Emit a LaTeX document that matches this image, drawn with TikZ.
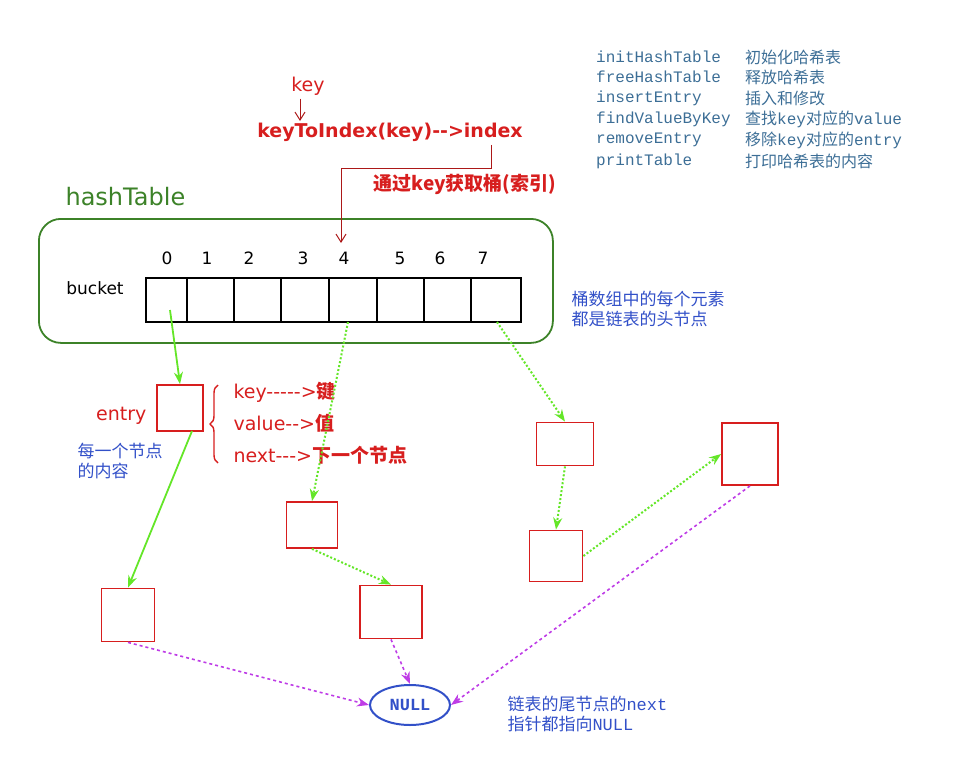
\documentclass[tikz,border=0pt]{standalone}
\usepackage{fontspec}
\setmainfont{DejaVu Sans}
\newfontfamily\cjk{Noto Sans CJK SC}
\newfontfamily\mono{Liberation Mono}
\usetikzlibrary{arrows.meta,shapes.geometric,decorations.pathreplacing}
\definecolor{myred}{RGB}{215,30,30}
\definecolor{mygreen}{RGB}{60,130,40}
\definecolor{myblue}{RGB}{50,80,200}
\definecolor{listblue}{RGB}{60,110,150}
\definecolor{lgreen}{RGB}{100,230,40}
\definecolor{purp}{RGB}{190,60,230}
\begin{document}
\begin{tikzpicture}[x=1pt,y=-1pt,
  ent/.style={draw=myred,line width=1.8pt,minimum width=#1,minimum height=#1,inner sep=0pt},
  ent/.default=50pt,
  cell/.style={draw=black,line width=1.5pt,minimum height=44pt,inner sep=0pt},
  rtxt/.style={text=myred,font=\fontsize{19}{21}\selectfont},
  btxt/.style={text=myblue,font=\fontsize{17}{20}\selectfont,anchor=west},
  ltxt/.style={text=listblue,font=\fontsize{16}{18}\selectfont,anchor=west,inner sep=0pt},
  gsolid/.style={draw=lgreen,line width=1.8pt,-{Stealth[length=12pt,width=9pt]}},
  gdot/.style={draw=lgreen,line width=2pt,dotted,-{Stealth[length=12pt,width=9pt]}},
  pdash/.style={draw=purp,line width=1.6pt,dashed,-{Stealth[length=12pt,width=9pt]}},
  rarr/.style={draw=myred!80!black,line width=1pt,-{Straight Barb[length=8pt,width=10pt]}}]
\useasboundingbox (0,0) rectangle (957,765);
% title area
\node[rtxt] (key) at (308,86) {key};
\node[rtxt,font=\fontsize{19}{21}\selectfont\bfseries] (kti) at (390,132) {keyToIndex(key)-{}->index};
\coordinate (kt) at (300,121);
\draw[rarr] (key.south -| kt) -- (kt);
\node[rtxt,font=\fontsize{19}{21}\selectfont\bfseries\cjk] (via) at (465,184) {通过key获取桶(索引)};
% hash table
\node[text=mygreen,font=\fontsize{24}{26}\selectfont,anchor=west] (ht) at (62,197) {hashTable};
\node[draw=mygreen,line width=1.8pt,rounded corners=22pt,minimum width=514pt,minimum height=124pt,anchor=north west] (box) at (38,218) {};
\node[font=\fontsize{17}{20}\selectfont] (bl) at (95,288) {bucket};
\foreach \i/\a/\b in {0/145/186,1/186/233,2/233/280,3/280/328,4/328/376,5/376/423,6/423/470,7/470/520}{
  \node[cell,minimum width={\b-\a},anchor=west] (c\i) at (\a,300) {};}
\foreach \i/\x in {0/167,1/207,2/249,3/303,4/344,5/400,6/440,7/483}{
  \node[font=\fontsize{17}{20}\selectfont] (n\i) at (\x,258) {\i};}
\coordinate (k4) at (341,243);
\draw[rarr] (kti.south -| 491,0) -- (491,168) -- (341,168) -- (k4);
\node[btxt,font=\fontsize{17}{20}\selectfont\cjk,align=left] (hd) at (568,309) {桶数组中的每个元素\\都是链表的头节点};
% function list
\foreach \f/\c/\y [count=\k] in {initHashTable/初始化哈希表/57,freeHashTable/释放哈希表/77,insertEntry/插入和修改/98,findValueByKey/{查找\mono key\cjk 对应的\mono value}/119,removeEntry/{移除\mono key\cjk 对应的\mono entry}/140,printTable/打印哈希表的内容/161}{
  \node[ltxt,font=\fontsize{16}{18}\selectfont\mono] (f\k) at (596,\y) {\f};
  \node[ltxt,font=\fontsize{16}{18}\selectfont\cjk] (g\k) at (745,\y) {\c};}
% entry description
\node[ent=46pt] (e0) at (180,408) {};
\node[rtxt,anchor=east] (en) at (150,416) {entry};
\node[btxt,font=\fontsize{17}{20}\selectfont\cjk,align=left,anchor=north west] (ed) at (74,440) {每一个节点\\的内容};
\draw[myred,line width=1.4pt,decorate,decoration={brace,amplitude=8pt,mirror}] (218,385) -- (218,463);
\node[rtxt,anchor=west] (t1) at (230,392) {key-{}-{}-{}-{}->\textbf{\cjk 键}};
\node[rtxt,anchor=west] (t2) at (230,423) {value-{}->\textbf{\cjk 值}};
\node[rtxt,anchor=west] (t3) at (230,455) {next-{}-{}->\textbf{\cjk 下一个节点}};
% list nodes
\node[ent=53pt] (A) at (128,615) {};
\node[ent,minimum width=51pt,minimum height=46pt] (B) at (312,525) {};
\node[ent,minimum width=62pt,minimum height=53pt] (C) at (391,612) {};
\node[ent,minimum width=57pt,minimum height=43pt] (D) at (565,444) {};
\node[ent,minimum width=53pt,minimum height=51pt] (E) at (556,556) {};
\node[ent,minimum width=56pt,minimum height=62pt] (F) at (750,454) {};
\node[draw=myblue,line width=2pt,ellipse,minimum width=80pt,minimum height=40pt,text=myblue,font=\fontsize{17}{20}\selectfont\bfseries\mono] (null) at (410,705) {NULL};
\node[btxt,font=\fontsize{17}{20}\selectfont\cjk,align=left] (tl) at (504,714) {链表的尾节点的\mono next\cjk\\指针都指向\mono NULL};
% arrows
\draw[gsolid] (170,310) -- (e0.north);
\draw[gsolid] (192,431) -- (A.north);
\draw[gdot] (348,322) -- (B.north);
\draw[gdot] (B.south) -- (C.north);
\draw[gdot] (497,322) -- (D.north);
\draw[gdot] (D.south) -- (E.north);
\draw[gdot] (E.east) -- (F.west);
\draw[pdash] (A.south) -- (null.west);
\draw[pdash] (C.south) -- (null.north);
\draw[pdash] (F.south) -- (null.east);
\end{tikzpicture}
\end{document}
